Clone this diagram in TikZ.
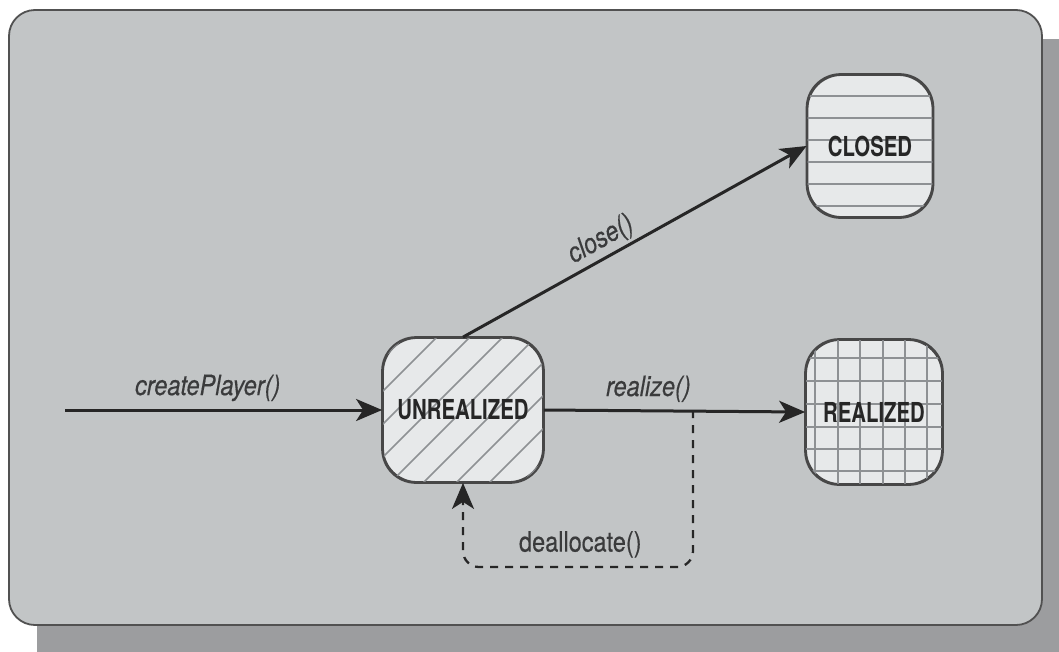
\documentclass[tikz,border=0pt]{standalone}
\usepackage{fontspec}
\setmainfont{TeX Gyre Heros}
\newfontfamily\statefont{TeX Gyre Heros}[FakeStretch=0.74]
\newfontfamily\labelfont{TeX Gyre Heros}[FakeStretch=0.84,FakeBold=0.4]
\usetikzlibrary{arrows.meta,calc}
\definecolor{panel}{HTML}{C2C5C6}
\definecolor{shadowgray}{HTML}{9C9D9F}
\definecolor{statefill}{HTML}{E7E9EA}
\definecolor{hatch}{HTML}{8E9194}
\definecolor{ink}{HTML}{262626}
\definecolor{labelink}{HTML}{3A3B3C}
\tikzset{
  statebox/.style={draw=ink!85, line width=1.8pt, fill=statefill, rounded corners=34pt, inner sep=0pt},
  outline/.style={draw=ink!85, line width=1.9pt, rounded corners=34pt},
  statetext/.style={font=\statefont\bfseries\fontsize{27.5}{30}\selectfont, text=ink},
  trans/.style={draw=ink, line width=3pt, -{Stealth[length=26pt,width=22pt,inset=7pt]}},
  back/.style={draw=ink, line width=2.3pt, dash pattern=on 8pt off 7pt, rounded corners=16pt,
    -{Stealth[length=26pt,width=22pt,inset=7pt]}},
  lbl/.style={font=\labelfont\itshape\fontsize{28}{30}\selectfont, text=labelink},
  plainlbl/.style={font=\labelfont\fontsize{28}{30}\selectfont, text=labelink},
  hatchline/.style={draw=hatch, line width=1.7pt},
}
\begin{document}
\begin{tikzpicture}[x=1pt,y=-1pt]
\useasboundingbox (0,0) rectangle (1059,651);
% drop shadow (runs off the lower right edge) and panel
\fill[shadowgray, rounded corners=26pt] (37,39) rectangle (1090,690);
\draw[fill=panel, draw=ink!80, line width=1.8pt, rounded corners=26pt] (9,10) rectangle (1042,625);

% states
\node[statebox, minimum width=160pt, minimum height=144pt] (u) at (463,410) {};
\node[statebox, minimum width=125pt, minimum height=142pt] (c) at (870,146) {};
\node[statebox, minimum width=136pt, minimum height=144pt] (r) at (874,412) {};

% diagonal hatching of UNREALIZED
\begin{scope}
  \clip[rounded corners=34pt] (u.south west) rectangle (u.north east);
  \foreach \k in {-6,...,6}
    \draw[hatchline] ($(u.center)+(\k*33-200,200)$) -- ++(400,-400);
\end{scope}
% horizontal lines of CLOSED
\begin{scope}
  \clip[rounded corners=34pt] (c.south west) rectangle (c.north east);
  \foreach \yy in {96,118,140,162,184,206}
    \draw[hatchline] (800,\yy) -- (940,\yy);
\end{scope}
% grid of REALIZED
\begin{scope}
  \clip[rounded corners=34pt] (r.south west) rectangle (r.north east);
  \foreach \yy in {358,381,404,427,449,471}
    \draw[hatchline] (800,\yy) -- (950,\yy);
  \foreach \xx in {815,838,860,883,905,927}
    \draw[hatchline] (\xx,330) -- (\xx,490);
\end{scope}
% outlines redrawn over the patterns
\draw[outline] (u.south west) rectangle (u.north east);
\draw[outline] (c.south west) rectangle (c.north east);
\draw[outline] (r.south west) rectangle (r.north east);

\node[statetext] (ut) at (u.center) {UNREALIZED};
\node[statetext] (ct) at (c.center) {CLOSED};
\node[statetext] (rt) at (r.center) {REALIZED};

% transitions
\coordinate (start) at (65,410);
\draw[trans] (start) -- node[lbl, above=4pt, pos=0.45] {createPlayer()} (u.west);
\draw[trans] (u.north) -- (c.west);
\node[lbl, rotate=29.4] (cl) at (601,240) {close()};
\draw[trans] (u.east) -- node[lbl, above=4pt, pos=0.40] {realize()} (r.west);
\coordinate (split) at (693,410);
\draw[back] (split) -- (693,567) -- node[plainlbl, above=5pt, pos=0.49] {deallocate()} (463,567) -- (u.south);
\end{tikzpicture}
\end{document}
